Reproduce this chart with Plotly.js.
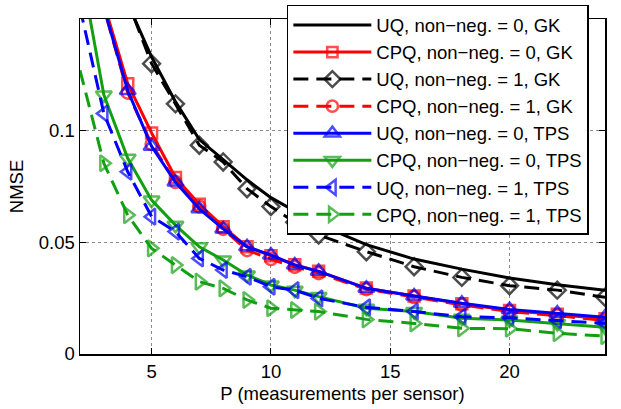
<!DOCTYPE html>
<html>
<head>
<meta charset="utf-8">
<script src="https://cdn.plot.ly/plotly-3.0.1.min.js"></script>
<style>html,body{margin:0;padding:0;background:#fff;}#chart{width:621px;height:409px;}</style>
</head>
<body>
<div id="chart"></div>
<script>
// P (measurements per sensor)
var P = [2, 3, 4, 5, 6, 7, 8, 9, 10, 11, 12, 14, 16, 18, 20, 22, 24];

// NMSE series (values above 0.15 are outside the visible range)
var uq0GK   = [0.26, 0.20, 0.157, 0.133, 0.113, 0.096, 0.087, 0.078, 0.070, 0.064, 0.058, 0.049, 0.0425, 0.038, 0.034, 0.031, 0.0285];
var cpq0GK  = [0.21, 0.157, 0.121, 0.099, 0.079, 0.067, 0.057, 0.048, 0.044, 0.040, 0.037, 0.0295, 0.026, 0.0225, 0.0195, 0.0178, 0.0158];
var uq1GK   = [0.25, 0.19, 0.158, 0.130, 0.112, 0.0935, 0.086, 0.074, 0.066, 0.059, 0.0533, 0.0458, 0.0391, 0.0343, 0.0306, 0.0286, 0.0254];
var cpq1GK  = [0.20, 0.155, 0.117, 0.094, 0.077, 0.066, 0.056, 0.0465, 0.0425, 0.039, 0.0362, 0.029, 0.0255, 0.022, 0.019, 0.0172, 0.015];
var uq0TPS  = [0.20, 0.155, 0.118, 0.093, 0.077, 0.065, 0.056, 0.048, 0.0443, 0.0398, 0.037, 0.0294, 0.026, 0.0227, 0.0199, 0.0183, 0.0165];
var cpq0TPS = [0.175, 0.116, 0.0876, 0.0689, 0.0577, 0.048, 0.0421, 0.0354, 0.0309, 0.0286, 0.0257, 0.0205, 0.019, 0.016, 0.0152, 0.0137, 0.012];
var uq1TPS  = [0.155, 0.1077, 0.0816, 0.0615, 0.0548, 0.0428, 0.0376, 0.0346, 0.0301, 0.0286, 0.0249, 0.0209, 0.019, 0.0167, 0.0162, 0.015, 0.0137];
var cpq1TPS = [0.127, 0.0854, 0.0622, 0.0473, 0.0398, 0.0324, 0.0294, 0.0242, 0.0205, 0.0197, 0.019, 0.0155, 0.0137, 0.0115, 0.0113, 0.0093, 0.008];

var names = [
  'UQ, non\u2212neg. = 0, GK',
  'CPQ, non\u2212neg. = 0, GK',
  'UQ, non\u2212neg. = 1, GK',
  'CPQ, non\u2212neg. = 1, GK',
  'UQ, non\u2212neg. = 0, TPS',
  'CPQ, non\u2212neg. = 0, TPS',
  'UQ, non\u2212neg. = 1, TPS',
  'CPQ, non\u2212neg. = 1, TPS'
];

var BLACK = '#000000', RED = '#ff0000', BLUE = '#0000ff', GREEN = '#12a012';
var DASH = '15px,8px';

function sizes(s) { return P.map(function (x) { return x < 3 ? 0 : s; }); }

function tr(y, name, color, dash, symbol, s) {
  var t = {
    x: P, y: y, name: name, type: 'scatter',
    mode: symbol ? 'lines+markers' : 'lines',
    line: {color: color, width: 3, dash: dash},
    cliponaxis: true
  };
  if (symbol) {
    t.marker = {symbol: symbol, size: sizes(s), color: color, line: {color: color, width: 2.5}};
  }
  return t;
}

var data = [
  tr(uq0GK, names[0], BLACK, 'solid', null),
  tr(cpq0GK, names[1], RED, 'solid', 'square-open', 11),
  tr(uq1GK, names[2], BLACK, DASH, 'diamond-open', 13),
  tr(cpq1GK, names[3], RED, DASH, 'circle-open', 12),
  tr(uq0TPS, names[4], BLUE, 'solid', 'triangle-up-open', 14),
  tr(cpq0TPS, names[5], GREEN, 'solid', 'triangle-down-open', 14),
  tr(uq1TPS, names[6], BLUE, DASH, 'triangle-left-open', 14),
  tr(cpq1TPS, names[7], GREEN, DASH, 'triangle-right-open', 14)
];

var FONT = 'Liberation Sans, Arial, Helvetica, sans-serif';

var layout = {
  width: 621, height: 409,
  margin: {l: 80, r: 16, t: 19, b: 55, autoexpand: false},
  paper_bgcolor: '#ffffff', plot_bgcolor: '#ffffff',
  font: {family: FONT, size: 18.5, color: '#000'},
  showlegend: true,
  legend: {
    x: 0.394, y: 1.0418, xanchor: 'left', yanchor: 'top',
    bgcolor: '#ffffff', bordercolor: '#000', borderwidth: 1.5,
    font: {family: FONT, size: 18.5, color: '#000'},
    itemwidth: 78, tracegroupgap: 0, maxheight: 400
  },
  xaxis: {
    range: [2, 24], tick0: 0, dtick: 5,
    showline: true, linecolor: '#000', linewidth: 1.5, mirror: 'ticks',
    ticks: 'inside', ticklen: 6, tickcolor: '#000', tickwidth: 1,
    showgrid: true, gridcolor: '#8a8a8a', griddash: 'dot', gridwidth: 1,
    zeroline: false,
    tickfont: {family: FONT, size: 18.5},
    title: {text: 'P (measurements per sensor)', font: {family: FONT, size: 18.5}, standoff: 6}
  },
  yaxis: {
    range: [0, 0.15], tickvals: [0, 0.05, 0.1], ticktext: ['0', '0.05', '0.1'],
    showline: true, linecolor: '#000', linewidth: 1.5, mirror: 'ticks',
    ticks: 'inside', ticklen: 6, tickcolor: '#000', tickwidth: 1,
    showgrid: true, gridcolor: '#8a8a8a', griddash: 'dot', gridwidth: 1,
    zeroline: false,
    tickfont: {family: FONT, size: 18.5},
    title: {text: 'NMSE', font: {family: FONT, size: 18.5}, standoff: 10}
  }
};

Plotly.newPlot('chart', data, layout, {displayModeBar: false, staticPlot: true});
</script>
</body>
</html>
